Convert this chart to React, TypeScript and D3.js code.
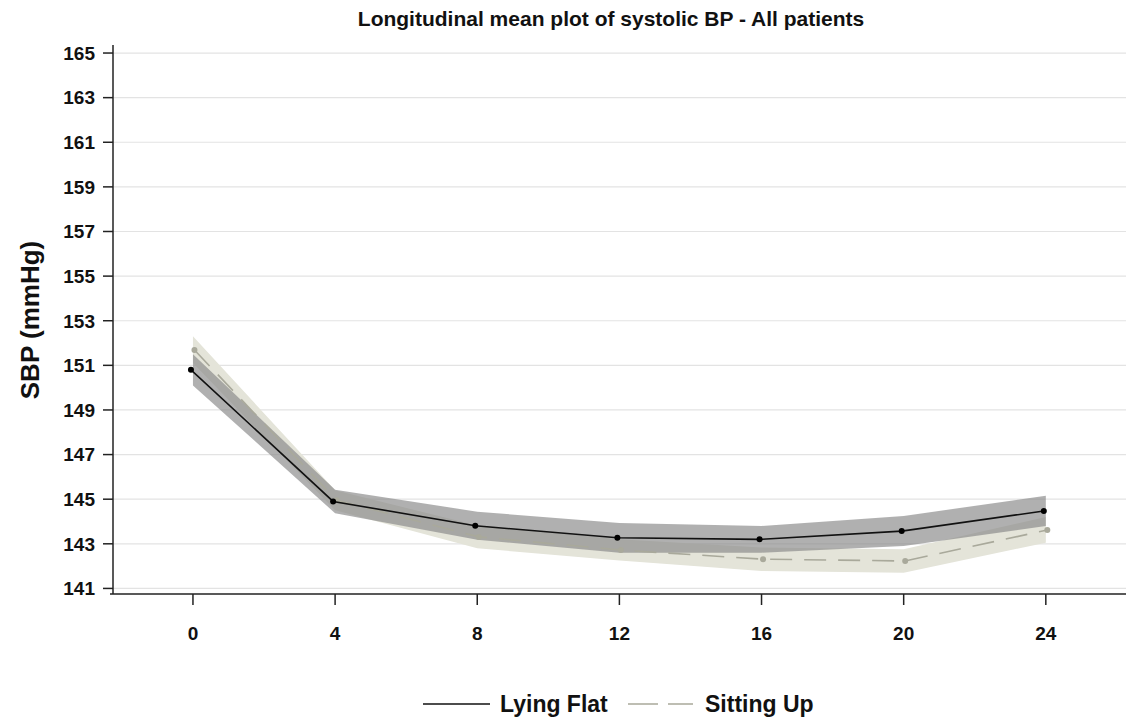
import React from "react";
import { scaleLinear, area, line } from "d3";

// weeks after baseline
const weeks = [0, 4, 8, 12, 16, 20, 24];
const xTicks = [0, 4, 8, 12, 16, 20, 24];
const yTicks = [141, 143, 145, 147, 149, 151, 153, 155, 157, 159, 161, 163, 165];

// Lying Flat
const lyingMean = [150.8, 144.9, 143.81, 143.27, 143.2, 143.57, 144.47];
const lyingLower = [150.1, 144.37, 143.18, 142.6, 142.6, 142.9, 143.8];
const lyingUpper = [151.5, 145.42, 144.44, 143.93, 143.8, 144.25, 145.15];

// Sitting Up
const sittingMean = [151.69, 144.95, 143.31, 142.72, 142.31, 142.23, 143.62];
const sittingLower = [151.1, 144.5, 142.8, 142.25, 141.78, 141.7, 143.05];
const sittingUpper = [152.3, 145.4, 143.82, 143.2, 142.84, 142.76, 144.2];

const font = "'Liberation Sans', Arial, sans-serif";

export default function App() {
  const W = 1126;
  const H = 724;
  const x = scaleLinear().domain([-2.25, 26.2]).range([113, 1124]);
  const y = scaleLinear().domain([140.75, 165.36]).range([594, 45]);

  const band = (lo: number[], hi: number[]) =>
    area<number>()
      .x((w) => x(w))
      .y0((w, i) => y(lo[i]))
      .y1((w, i) => y(hi[i]))(weeks);

  const path = (vals: number[], dx: number) =>
    line<number>()
      .x((w) => x(w) + dx)
      .y((w, i) => y(vals[i]))(weeks);

  const greyCol = "#a9a99b";

  return (
    <div style={{ position: "absolute", left: 0, top: 0 }}>
      <svg width={W} height={H} style={{ background: "white", display: "block" }} fontFamily={font}>
        {/* gridlines */}
        {yTicks.map((t) => (
          <line key={"g" + t} x1={113} x2={W} y1={y(t)} y2={y(t)} stroke="#e3e3e3" strokeWidth={1.2} />
        ))}

        {/* confidence bands */}
        <path d={band(sittingLower, sittingUpper) || ""} fill="#e4e4d9" />
        <path d={band(lyingLower, lyingUpper) || ""} fill="#8a8a8a" fillOpacity={0.68} />

        {/* mean lines */}
        <path d={path(sittingMean, 1.5) || ""} fill="none" stroke={greyCol} strokeWidth={1.6} strokeDasharray="22,12" />
        {weeks.map((w, i) => (
          <circle key={"s" + w} cx={x(w) + 1.5} cy={y(sittingMean[i])} r={3} fill={greyCol} />
        ))}
        <path d={path(lyingMean, -2) || ""} fill="none" stroke="#111" strokeWidth={1.6} />
        {weeks.map((w, i) => (
          <circle key={"l" + w} cx={x(w) - 2} cy={y(lyingMean[i])} r={3} fill="#000" />
        ))}

        {/* y axis */}
        <line x1={113} x2={113} y1={45} y2={594} stroke="#222" strokeWidth={1.5} />
        {yTicks.map((t) => (
          <g key={"y" + t}>
            <line x1={103} x2={113} y1={y(t)} y2={y(t)} stroke="#222" strokeWidth={1.5} />
            <text x={95} y={y(t)} dy="0.36em" textAnchor="end" fontSize={19} fontWeight="bold" fill="#111">
              {t}
            </text>
          </g>
        ))}

        {/* x axis */}
        <line x1={110} x2={W} y1={594} y2={594} stroke="#222" strokeWidth={1.5} />
        {xTicks.map((t) => (
          <g key={"x" + t}>
            <line x1={x(t)} x2={x(t)} y1={594} y2={605} stroke="#222" strokeWidth={1.5} />
            <text x={x(t)} y={640} textAnchor="middle" fontSize={19} fontWeight="bold" fill="#111">
              {t}
            </text>
          </g>
        ))}

        {/* title and axis label */}
        <text x={611} y={26} textAnchor="middle" fontSize={21} fontWeight="bold" fill="#111">
          Longitudinal mean plot of systolic BP - All patients
        </text>
        <text transform="translate(39,320) rotate(-90)" textAnchor="middle" fontSize={26} fontWeight="bold" fill="#111">
          SBP (mmHg)
        </text>

        {/* legend */}
        <line x1={423} x2={490} y1={704} y2={704} stroke="#111" strokeWidth={1.6} />
        <text x={500} y={712} fontSize={23} fontWeight="bold" fill="#111">
          Lying Flat
        </text>
        <line x1={628} x2={693} y1={704} y2={704} stroke={greyCol} strokeWidth={1.6} strokeDasharray="30,10" />
        <text x={705} y={712} fontSize={23} fontWeight="bold" fill="#111">
          Sitting Up
        </text>
      </svg>
    </div>
  );
}
